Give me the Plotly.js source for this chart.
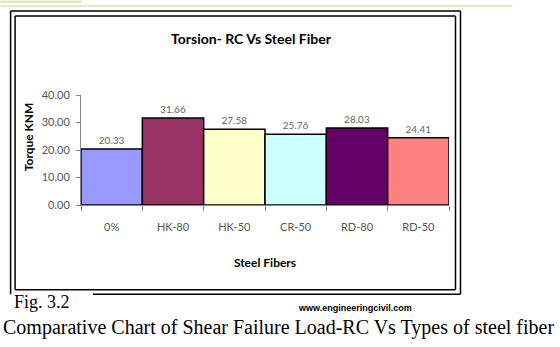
<!DOCTYPE html>
<html>
<head>
<meta charset="utf-8">
<script src="https://cdn.plot.ly/plotly-3.0.1.min.js"></script>
<style>html,body{margin:0;padding:0;background:#fff;}#chart{width:560px;height:347px;}</style>
</head>
<body>
<div id="chart"></div>
<script>
var categories = ["0%", "HK-80", "HK-50", "CR-50", "RD-80", "RD-50"];
var torque = [20.33, 31.66, 27.58, 25.76, 28.03, 24.41];
var barColors = ["#9999FF", "#993366", "#FFFFCC", "#CCFFFF", "#660066", "#FF8080"];
var yTicks = [0, 10, 20, 30, 40];
var yTickText = ["0.00", "10.00", "20.00", "30.00", "40.00"];

var W = 560, H = 347;
var L = 81, R = 449.5, T = 94.7, B = 205;
function px(x) { return (x - L) / (R - L); }
function py(y) { return (B - y) / (B - T); }
function line(x0, y0, x1, y1, color, width) {
  return {type: "line", xref: "paper", yref: "paper", x0: px(x0), y0: py(y0), x1: px(x1), y1: py(y1),
          line: {color: color, width: width}, layer: "above"};
}

var shapes = [
  {type: "rect", xref: "paper", yref: "paper", x0: px(0), y0: py(0), x1: px(82), y1: py(2.5),
   fillcolor: "#e5eac6", line: {width: 0}},
  line(0, 5.5, 513, 5.5, "#e6e9d2", 2.5),
  line(10.5, 10.5, 461, 10.5, "#000", 1.5),
  line(10.5, 10.5, 10.5, 294.5, "#000", 1.5),
  line(461, 10.5, 461, 294.5, "#000", 1.5),
  line(93, 294.5, 461, 294.5, "#000", 1.5),
  line(15, 15.5, 456, 15.5, "#000", 1.5),
  line(15, 15.5, 15, 290, "#000", 1.5),
  line(456, 15.5, 456, 290, "#000", 1.5),
  line(15, 290, 456, 290, "#000", 1.5)
];

var annotations = [
  {xref: "paper", yref: "paper", x: px(28), y: py(137), text: "<b>Torque KNM</b>", textangle: -90,
   showarrow: false, font: {family: "Lato", size: 12, color: "#000"}, xanchor: "center", yanchor: "middle"},
  {xref: "paper", yref: "paper", x: px(12), y: py(302.5), text: "Fig. 3.2", showarrow: false,
   font: {family: "Liberation Serif", size: 18, color: "#000"}, xanchor: "left", yanchor: "middle"},
  {xref: "paper", yref: "paper", x: px(355), y: py(308), text: "<b>www.engineeringcivil.com</b>", showarrow: false,
   font: {family: "Liberation Sans", size: 9, color: "#000"}, xanchor: "center", yanchor: "middle"},
  {xref: "paper", yref: "paper", x: px(279), y: py(328), text: "Comparative Chart of Shear Failure Load-RC Vs Types of steel fiber",
   showarrow: false, font: {family: "Liberation Serif", size: 20, color: "#000"}, xanchor: "center", yanchor: "middle"}
];

var trace = {
  type: "bar",
  x: categories,
  y: torque,
  marker: {color: barColors, line: {color: "#000", width: 1.5}},
  text: torque.map(function (v) { return v.toFixed(2); }),
  textposition: "outside",
  textfont: {family: "Lato", size: 10, color: "#666"},
  cliponaxis: false,
  hoverinfo: "x+y"
};

var layout = {
  width: W, height: H,
  margin: {l: L, r: W - R, t: T, b: H - B, pad: 0},
  paper_bgcolor: "#fff", plot_bgcolor: "#fff",
  showlegend: false,
  bargap: 0,
  title: {text: "<b>Torsion- RC Vs Steel Fiber</b>", font: {family: "Lato", size: 14, color: "#000"},
          x: 251 / W, xanchor: "center", xref: "container", y: 1 - 39 / H, yanchor: "middle", yref: "container"},
  xaxis: {type: "category", showline: true, linecolor: "#888", linewidth: 1,
          ticks: "outside", tickson: "boundaries", ticklen: 5, tickcolor: "#888", ticklabelstandoff: 12,
          tickfont: {family: "Lato", size: 11, color: "#555"}, showgrid: false, zeroline: false,
          title: {text: "<b>Steel Fibers</b>", font: {family: "Lato", size: 12, color: "#000"}, standoff: 26}},
  yaxis: {range: [0, 40], tickvals: yTicks, ticktext: yTickText, showline: true, linecolor: "#888",
          ticks: "outside", ticklen: 4, tickcolor: "#888", showgrid: false, zeroline: false, ticklabelstandoff: 4,
          tickfont: {family: "Lato", size: 11, color: "#555"}},
  shapes: shapes,
  annotations: annotations
};

Plotly.newPlot("chart", [trace], layout, {staticPlot: true, displayModeBar: false});
</script>
</body>
</html>
